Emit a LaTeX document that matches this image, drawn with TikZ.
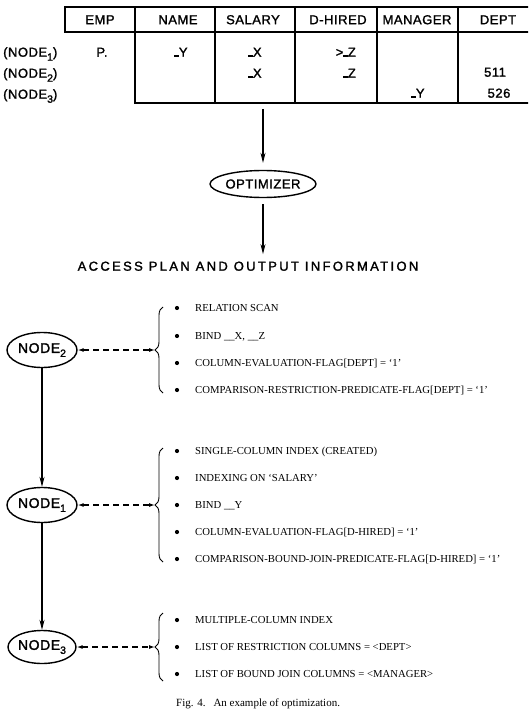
\documentclass[tikz,border=0pt]{standalone}
\usepackage{fontspec}
\setmainfont{Liberation Serif}
\setsansfont{Liberation Sans}
\newfontfamily\lett[LetterSpace=4,FakeBold=1.6]{Liberation Sans}
\newfontfamily\wide[LetterSpace=18,FakeBold=1.6]{Liberation Sans}
\usetikzlibrary{shapes.geometric,arrows.meta,decorations.pathreplacing}
\newcommand{\subs}[1]{\raisebox{-4pt}{\fontsize{10.5}{10.5}\selectfont #1}}
\newcommand{\us}{\rule[0pt]{4.5pt}{1.3pt}}
\tikzset{
 hdr/.style={font=\lett\fontsize{13}{13}\selectfont, inner sep=0pt, text height=9.4pt, text depth=0pt},
 item/.style={anchor=west, font=\fontsize{10.7}{11}\selectfont, inner sep=0pt, text height=7pt, text depth=0pt},
 dot/.style={circle, fill, inner sep=0pt, minimum size=4.2pt},
 oval/.style={ellipse, draw, line width=1.4pt, minimum width=70pt, minimum height=35pt, inner sep=0pt, font=\lett\fontsize{14}{14}\selectfont},
 flow/.style={line width=1.1pt, -{Stealth[length=10pt,width=5pt]}},
 link/.style={line width=1.1pt, dash pattern=on 6pt off 4pt, {Latex[length=6pt,width=4pt]}-{Latex[length=6pt,width=4pt]}},
 brc/.style={decorate, decoration={brace, amplitude=8pt}, line width=0.9pt},
 grid/.style={line width=1.5pt}
}
\begin{document}
\begin{tikzpicture}[x=1pt,y=-1pt]
\useasboundingbox (0,0) rectangle (528,711);
\clip (0,0) rectangle (528,711);
% table
\draw[grid] (540,7) -- (65,7) -- (65,32) -- (540,32);
\draw[grid] (135,7) -- (135,103) -- (540,103);
\foreach \x in {215,295,377,458} \draw[grid] (\x,7) -- (\x,103);
\node[hdr] (hemp) at (100,19.5) {EMP};
\node[hdr] (hname) at (178,19.5) {NAME};
\node[hdr] (hsal) at (253,19.5) {SALARY};
\node[hdr] (hdh) at (338,19.5) {D-HIRED};
\node[hdr] (hman) at (417,19.5) {MANAGER};
\node[hdr] (hdept) at (498,19.5) {DEPT};
\node[hdr, anchor=west] (r1) at (3,52) {(NODE\subs{1})};
\node[hdr, anchor=west] (r2) at (3,73) {(NODE\subs{2})};
\node[hdr, anchor=west] (r3) at (3,94) {(NODE\subs{3})};
\node[hdr] (c1emp) at (102,52) {P.};
\node[hdr] (c1name) at (181,52) {\us Y};
\node[hdr] (c1sal) at (255,52) {\us X};
\node[hdr, anchor=east] (c1dh) at (356,52) {>\us Z};
\node[hdr] (c2sal) at (255,73) {\us X};
\node[hdr, anchor=east] (c2dh) at (356,73) {\us Z};
\node[hdr] (c2dept) at (495,72) {511};
\node[hdr] (c3man) at (418,93) {\us Y};
\node[hdr] (c3dept) at (499,93) {526};
% optimizer
\coordinate (tb) at (263,109);
\node[oval, minimum width=105pt, minimum height=27pt, font=\lett\fontsize{13}{13}\selectfont] (opt) at (263,184) {OPTIMIZER};
\draw[flow, shorten >=7pt] (tb) -- (opt.north);
\node[font=\wide\fontsize{13}{13}\selectfont, inner sep=0pt, text height=9.4pt, text depth=0pt] (acc) at (248,266) {ACCESS PLAN AND OUTPUT INFORMATION};
\draw[flow, shorten <=6pt, shorten >=7pt] (opt.south) -- (opt.south |- acc.north);
% plan nodes
\node[oval] (n2) at (42,350) {NODE\subs{2}};
\node[oval] (n1) at (42,505) {NODE\subs{1}};
\node[oval, minimum width=68pt, minimum height=33pt] (n3) at (42,647) {NODE\subs{3}};
\draw[flow] (n2) -- (n1);
\draw[flow] (n1) -- (n3);
% braces
\draw[brc] (163,393) -- (163,307);
\coordinate (b2) at (155,350);
\draw[brc] (163,562) -- (163,448);
\coordinate (b1) at (155,505);
\draw[brc] (163,681) -- (163,613);
\coordinate (b3) at (155,647);
\draw[link] (n2.east) -- (b2);
\draw[link] (n1.east) -- (b1);
\draw[link] (n3.east) -- (b3);
% bullets
\foreach \y/\nm in {308/d21,336/d22,363/d23,390/d24,451/d11,478/d12,505/d13,532/d14,559/d15,620/d31,647/d32,674/d33}
  \node[dot] (\nm) at (177,\y) {};
% items
\node[item] (i21) at (195,308) {RELATION SCAN};
\node[item] (i22) at (195,336) {BIND \_\_X, \_\_Z};
\node[item] (i23) at (195,363) {COLUMN-EVALUATION-FLAG[DEPT] = `1'};
\node[item] (i24) at (195,390) {COMPARISON-RESTRICTION-PREDICATE-FLAG[DEPT] = `1'};
\node[item] (i11) at (195,451) {SINGLE-COLUMN INDEX (CREATED)};
\node[item] (i12) at (195,478) {INDEXING ON `SALARY'};
\node[item] (i13) at (195,505) {BIND \_\_Y};
\node[item] (i14) at (195,532) {COLUMN-EVALUATION-FLAG[D-HIRED] = `1'};
\node[item] (i15) at (195,559) {COMPARISON-BOUND-JOIN-PREDICATE-FLAG[D-HIRED] = `1'};
\node[item] (i31) at (195,620) {MULTIPLE-COLUMN INDEX};
\node[item] (i32) at (195,647) {LIST OF RESTRICTION COLUMNS = <DEPT>};
\node[item] (i33) at (195,674) {LIST OF BOUND JOIN COLUMNS = <MANAGER>};
\node[anchor=west, font=\fontsize{11}{11}\selectfont, inner sep=0pt] (cap) at (176,704) {Fig. 4.\hspace{8pt}An example of optimization.};
\end{tikzpicture}
\end{document}
